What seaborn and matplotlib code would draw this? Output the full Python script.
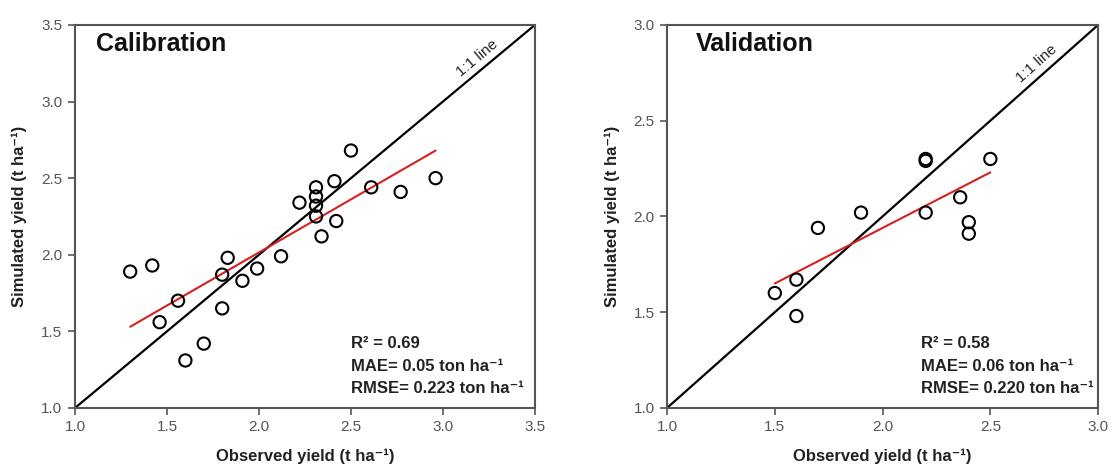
import matplotlib
matplotlib.use("Agg")
import matplotlib.pyplot as plt
import seaborn as sns
import numpy as np
import pandas as pd

# Calibration data
cal_obs = [1.30, 1.42, 1.56, 1.46, 1.60, 1.70, 1.80, 1.80, 1.83, 1.91, 1.99, 2.12,
           2.22, 2.31, 2.31, 2.31, 2.31, 2.34, 2.41, 2.42, 2.50, 2.61, 2.77, 2.96]
cal_sim = [1.89, 1.93, 1.70, 1.56, 1.31, 1.42, 1.87, 1.65, 1.98, 1.83, 1.91, 1.99,
           2.34, 2.44, 2.38, 2.32, 2.25, 2.12, 2.48, 2.22, 2.68, 2.44, 2.41, 2.50]
cal_fit_x = [1.30, 2.96]
cal_fit_y = [1.53, 2.68]

# Validation data
val_obs = [1.50, 1.60, 1.60, 1.70, 1.90, 2.20, 2.20, 2.20, 2.36, 2.40, 2.40, 2.50]
val_sim = [1.60, 1.67, 1.48, 1.94, 2.02, 2.30, 2.29, 2.02, 2.10, 1.97, 1.91, 2.30]
val_fit_x = [1.50, 2.50]
val_fit_y = [1.65, 2.23]

cal_ticks = [1.0, 1.5, 2.0, 2.5, 3.0, 3.5]
val_ticks = [1.0, 1.5, 2.0, 2.5, 3.0]

titles = ["Calibration", "Validation"]
stats = [["R² = 0.69", "MAE= 0.05 ton ha⁻¹", "RMSE= 0.223 ton ha⁻¹"],
         ["R² = 0.58", "MAE= 0.06 ton ha⁻¹", "RMSE= 0.220 ton ha⁻¹"]]
xlabel = "Observed yield (t ha⁻¹)"
ylabel = "Simulated yield (t ha⁻¹)"

sns.set_theme(style="white")
fam = ["Liberation Sans", "DejaVu Sans"]
plt.rcParams["font.family"] = fam

fig = plt.figure(figsize=(11.11, 4.70), dpi=100)
axes = [fig.add_axes([0.0675, 0.132, 0.414, 0.815]),
        fig.add_axes([0.6004, 0.132, 0.388, 0.815])]

panels = [
    (cal_obs, cal_sim, cal_fit_x, cal_fit_y, cal_ticks, (1.0, 3.5)),
    (val_obs, val_sim, val_fit_x, val_fit_y, val_ticks, (1.0, 3.0)),
]
title_x = [0.046, 0.067]
label_frac = [0.892, 0.876]

for i, (ax, (xo, ys, fx, fy, ticks, lim)) in enumerate(zip(axes, panels)):
    df = pd.DataFrame({"obs": xo, "sim": ys})
    ax.set_xlim(*lim)
    ax.set_ylim(*lim)
    ax.plot(lim, lim, color="black", lw=1.6, zorder=2)
    ax.plot(fx, fy, color="#d62020", lw=1.5, zorder=3)
    sns.scatterplot(data=df, x="obs", y="sim", ax=ax, marker="o", s=78,
                    facecolor="none", edgecolor="black", linewidth=1.5, zorder=4)
    ax.set_xticks(ticks)
    ax.set_yticks(ticks)
    ax.set_xticklabels([f"{t:.1f}" for t in ticks])
    ax.set_yticklabels([f"{t:.1f}" for t in ticks])
    ax.tick_params(axis="both", direction="out", length=5, width=1.2,
                   colors="#555555", labelsize=11, pad=4,
                   bottom=True, left=True)
    ax.tick_params(labelcolor="#555555")
    for sp in ax.spines.values():
        sp.set_color("#555555")
        sp.set_linewidth(1.5)
    ax.set_xlabel(xlabel, fontsize=12, fontweight="bold", color="#222222", labelpad=10)
    ax.set_ylabel(ylabel, fontsize=12, fontweight="bold", color="#222222", labelpad=10)
    ax.text(title_x[i], 0.982, titles[i], transform=ax.transAxes, fontsize=18,
            fontweight="bold", ha="left", va="top", color="#111111")
    # 1:1 label rotated along the diagonal
    bbox = ax.get_position()
    w = bbox.width * fig.get_figwidth()
    h = bbox.height * fig.get_figheight()
    ang = np.degrees(np.arctan2(h, w))
    span = lim[1] - lim[0]
    px = lim[0] + label_frac[i] * span
    ax.text(px - 0.008 * span, px + 0.008 * span, "1:1 line", rotation=ang,
            rotation_mode="anchor", ha="center", va="bottom", fontsize=11,
            color="#222222")
    for j, s in enumerate(stats[i]):
        ax.text(0.60 if i == 0 else 0.59, 0.167 - j * 0.058, s,
                transform=ax.transAxes, fontsize=12,
                fontweight="bold", ha="left", va="center", color="#222222")

fig.savefig("out.png", dpi=100)
